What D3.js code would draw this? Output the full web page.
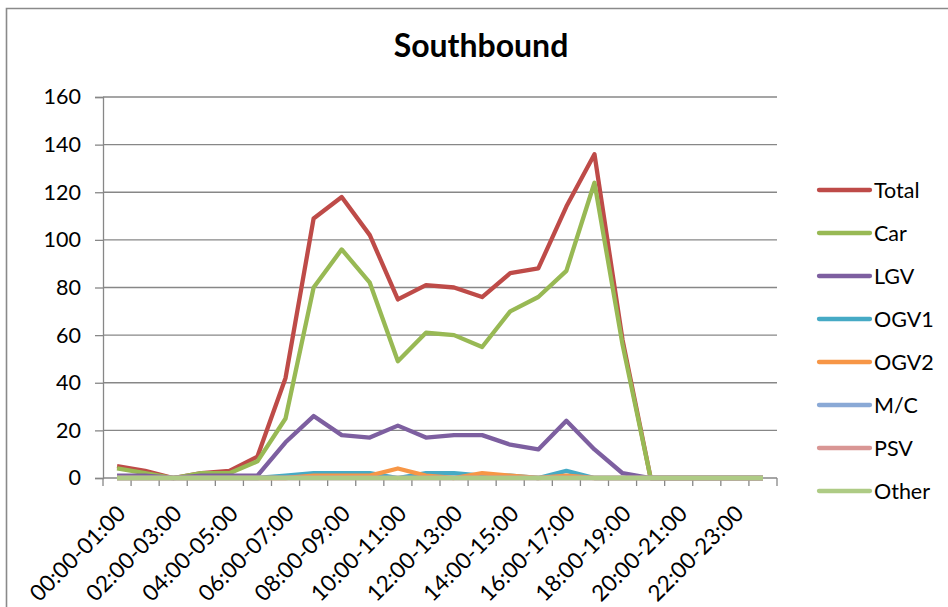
<!DOCTYPE html>
<html>
<head>
<meta charset="utf-8">
<script src="https://cdn.jsdelivr.net/npm/d3@7"></script>
<style>
  html, body { margin: 0; padding: 0; background: #fff; }
  svg { display: block; }
  text { font-family: Lato, "Open Sans", sans-serif; fill: #000; }
</style>
</head>
<body>
<svg id="chart" width="948" height="607"></svg>
<script>
// Hourly periods (x categories)
const periods = [
  "00:00-01:00","01:00-02:00","02:00-03:00","03:00-04:00","04:00-05:00","05:00-06:00",
  "06:00-07:00","07:00-08:00","08:00-09:00","09:00-10:00","10:00-11:00","11:00-12:00",
  "12:00-13:00","13:00-14:00","14:00-15:00","15:00-16:00","16:00-17:00","17:00-18:00",
  "18:00-19:00","19:00-20:00","20:00-21:00","21:00-22:00","22:00-23:00","23:00-24:00"
];

// Vehicle counts per hour, by class
const total = [5,3,0,2,3,9,42,109,118,102,75,81,80,76,86,88,114,136,58,0,0,0,0,0];
const car   = [4,2,0,2,2,7,25,80,96,82,49,61,60,55,70,76,87,124,56,0,0,0,0,0];
const lgv   = [1,1,0,1,1,1,15,26,18,17,22,17,18,18,14,12,24,12,2,0,0,0,0,0];
const ogv1  = [0,0,0,0,0,0,1,2,2,2,0,2,2,1,1,0,3,0,0,0,0,0,0,0];
const ogv2  = [0,0,0,0,0,0,0,1,1,1,4,1,0,2,1,0,1,0,0,0,0,0,0,0];
const mc    = [0,0,0,0,0,0,0,0,0,0,0,0,0,0,0,0,0,0,0,0,0,0,0,0];
const psv   = [0,0,0,0,0,0,0,0,0,0,0,0,0,0,0,0,0,0,0,0,0,0,0,0];
const other = [0,0,0,0,0,0,0,0,0,0,0,0,0,0,0,0,0,0,0,0,0,0,0,0];

const seriesNames = ["Total","Car","LGV","OGV1","OGV2","M/C","PSV","Other"];
const seriesColors = ["#be4b48","#98b954","#7d5fa0","#46aac5","#f79646","#8aa9d6","#d99694","#aecb85"];
const yTicks = [0,20,40,60,80,100,120,140,160];

const seriesValues = [total, car, lgv, ogv1, ogv2, mc, psv, other];
const series = seriesNames.map((name, i) => ({ name, color: seriesColors[i], values: seriesValues[i] }));

const svg = d3.select("#chart");
const plot = { left: 103, right: 777, top: 97, bottom: 478 };

const x = d3.scaleBand().domain(periods).range([plot.left, plot.right]).padding(0);
const y = d3.scaleLinear().domain([0, 160]).range([plot.bottom, plot.top]);
const cx = d => x(d) + x.bandwidth() / 2;

const gridColor = "#878787";

// Outer chart frame
svg.append("path")
  .attr("d", `M6.5,607 L6.5,8.5 L948,8.5`)
  .attr("fill", "none")
  .attr("stroke", "#8a8a8a")
  .attr("stroke-width", 1.6);

// Title
svg.append("text")
  .attr("x", 481)
  .attr("y", 57)
  .attr("text-anchor", "middle")
  .style("font-size", "32px")
  .style("font-weight", "bold")
  .text("Southbound");

// Horizontal gridlines
svg.append("g")
  .selectAll("line")
  .data(yTicks.filter(t => t > 0))
  .join("line")
  .attr("x1", plot.left).attr("x2", plot.right)
  .attr("y1", d => y(d)).attr("y2", d => y(d))
  .attr("stroke", gridColor).attr("stroke-width", 1.3);

// Y axis
const yAxis = d3.axisLeft(y).tickValues(yTicks).tickSize(8).tickPadding(14);
const gy = svg.append("g").attr("transform", `translate(${plot.left},0)`).call(yAxis);
gy.select(".domain").attr("stroke", gridColor).attr("stroke-width", 1.3);
gy.selectAll(".tick line").attr("stroke", gridColor).attr("stroke-width", 1.3);
gy.selectAll(".tick text").style("font-size", "21.5px").style("font-family", "Lato, sans-serif").attr("fill", "#000");

// X axis: baseline and tick marks at category boundaries
const gx = svg.append("g");
gx.append("line")
  .attr("x1", plot.left).attr("x2", plot.right)
  .attr("y1", plot.bottom).attr("y2", plot.bottom)
  .attr("stroke", gridColor).attr("stroke-width", 1.3);
gx.selectAll("line.tk")
  .data(periods.concat(["end"]))
  .join("line")
  .attr("class", "tk")
  .attr("x1", (d, i) => plot.left + i * x.bandwidth())
  .attr("x2", (d, i) => plot.left + i * x.bandwidth())
  .attr("y1", plot.bottom).attr("y2", plot.bottom + 8)
  .attr("stroke", gridColor).attr("stroke-width", 1.3);

// Rotated category labels, every other period
gx.selectAll("text")
  .data(periods.filter((d, i) => i % 2 === 0))
  .join("text")
  .attr("text-anchor", "end")
  .attr("dominant-baseline", "central")
  .attr("transform", d => `translate(${cx(d) + 4},${plot.bottom + 31}) rotate(-45)`)
  .style("font-size", "22.5px")
  .text(d => d);

// Series lines
const line = d3.line()
  .x((v, i) => cx(periods[i]))
  .y(v => y(v));

svg.append("g")
  .selectAll("path")
  .data(series)
  .join("path")
  .attr("d", s => line(s.values))
  .attr("fill", "none")
  .attr("stroke", s => s.color)
  .attr("stroke-width", 4.3)
  .attr("stroke-linejoin", "round")
  .attr("stroke-linecap", "butt");

// Legend
const legend = svg.append("g");
const legendTop = 190, legendStep = 43;
const items = legend.selectAll("g")
  .data(series)
  .join("g")
  .attr("transform", (s, i) => `translate(0,${legendTop + i * legendStep})`);
items.append("line")
  .attr("x1", 819).attr("x2", 870)
  .attr("y1", 0).attr("y2", 0)
  .attr("stroke", s => s.color)
  .attr("stroke-width", 4.3)
  .attr("stroke-linecap", "round");
items.append("text")
  .attr("x", 874)
  .attr("y", 0)
  .attr("dominant-baseline", "central")
  .style("font-size", "21.5px")
  .text(s => s.name);
</script>
</body>
</html>
